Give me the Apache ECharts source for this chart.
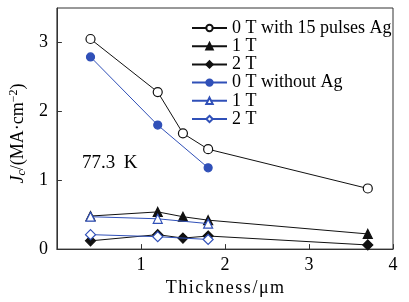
<!DOCTYPE html>
<html>
<head>
<meta charset="utf-8">
<script src="https://cdn.jsdelivr.net/npm/echarts@6/dist/echarts.min.js"></script>
<style>
html,body{margin:0;padding:0;background:#fff;}
#chart{width:409px;height:302px;}
</style>
</head>
<body>
<div id="chart"></div>
<script>
// Data
const thicknessAg = [0.4, 1.2, 1.5, 1.8, 3.7];
const thicknessNoAg = [0.4, 1.2, 1.8];
const jc0TAg = [3.05, 2.28, 1.68, 1.45, 0.88];
const jc1TAg = [0.48, 0.54, 0.47, 0.42, 0.22];
const jc2TAg = [0.12, 0.21, 0.16, 0.19, 0.06];
const jc0TNoAg = [2.79, 1.80, 1.18];
const jc1TNoAg = [0.47, 0.44, 0.37];
const jc2TNoAg = [0.21, 0.18, 0.14];
const seriesNames = ['0 T with 15 pulses Ag', '1 T', '2 T', '0 T without Ag', '1 T\u200b', '2 T\u200b'];
const xTicks = [1, 2, 3, 4];
const yTicks = [0, 1, 2, 3];

const BLACK = '#111';
const BLUE = '#3050b8';
const FONT = 'Liberation Serif';

function pairs(xs, ys) { return xs.map((x, i) => [x, ys[i]]); }

function mk(name, data, color, symbol, size, filled) {
  return {
    name: name,
    type: 'line',
    data: data,
    symbol: symbol,
    symbolSize: size,
    showAllSymbol: true,
    lineStyle: { color: color, width: 1 },
    itemStyle: { color: filled ? color : '#fff', borderColor: color, borderWidth: 1.2 },
    emphasis: { disabled: true },
    z: filled ? 3 : 4
  };
}

const chart = echarts.init(document.getElementById('chart'), null, { renderer: 'canvas' });
chart.setOption({
  animation: false,
  backgroundColor: '#fff',
  textStyle: { fontFamily: FONT, color: '#000' },
  grid: { left: 55, right: 16, top: 8, bottom: 51, show: true, borderColor: '#333', borderWidth: 1, backgroundColor: 'transparent' },
  legend: {
    orient: 'vertical',
    left: 191,
    top: 19,
    padding: 0,
    itemWidth: 35,
    itemHeight: 8,
    itemGap: 0.2,
    textStyle: { fontFamily: FONT, fontSize: 18, color: '#000', lineHeight: 16 },
    data: seriesNames
  },
  xAxis: {
    type: 'value',
    min: 0, max: 4, interval: 1,
    name: 'T h i c k n e s s / μ m'.replace(/ /g, '\u200a'),
    nameLocation: 'middle',
    nameGap: 29,
    nameTextStyle: { fontFamily: FONT, fontSize: 18, color: '#000' },
    axisLine: { show: true, lineStyle: { color: '#333', width: 1 } },
    axisTick: { show: true, inside: true, length: 5, lineStyle: { color: '#333' } },
    axisLabel: { fontFamily: FONT, fontSize: 18, color: '#000', margin: 7,
      formatter: v => xTicks.indexOf(v) >= 0 ? String(v) : '' },
    splitLine: { show: false }
  },
  yAxis: {
    type: 'value',
    min: 0, max: 3.5, interval: 1,
    name: '{j|J}{sub|c}{n|/(MA·cm}{sup|−2}{n|)}',
    nameLocation: 'middle',
    nameGap: 25,
    nameRotate: 90,
    nameTextStyle: {
      fontFamily: FONT, fontSize: 18, color: '#000',
      padding: [0, 10, 0, 0],
      rich: {
        j: { fontFamily: FONT, fontSize: 18, fontStyle: 'italic', color: '#000' },
        sub: { fontFamily: FONT, fontSize: 12, fontStyle: 'italic', color: '#000', padding: [8, 0, 0, 0] },
        n: { fontFamily: FONT, fontSize: 18, color: '#000' },
        sup: { fontFamily: FONT, fontSize: 12, color: '#000', padding: [0, 0, 8, 0] }
      }
    },
    axisLine: { show: true, lineStyle: { color: '#333', width: 1 } },
    axisTick: { show: true, inside: true, length: 5, lineStyle: { color: '#333' } },
    axisLabel: { fontFamily: FONT, fontSize: 18, color: '#000', margin: 9, showMaxLabel: false,
      formatter: v => yTicks.indexOf(v) >= 0 ? String(v) : '' },
    splitLine: { show: false }
  },
  graphic: [{
    type: 'text',
    left: 82,
    top: 154,
    style: { text: '77.3\u2009 K', fontFamily: FONT, fontSize: 19, fill: '#000' }
  }],
  series: [
    mk(seriesNames[0], pairs(thicknessAg, jc0TAg), BLACK, 'circle', 9, false),
    mk(seriesNames[1], pairs(thicknessAg, jc1TAg), BLACK, 'triangle', 9, true),
    mk(seriesNames[2], pairs(thicknessAg, jc2TAg), BLACK, 'diamond', 10, true),
    mk(seriesNames[3], pairs(thicknessNoAg, jc0TNoAg), BLUE, 'circle', 8, true),
    mk(seriesNames[4], pairs(thicknessNoAg, jc1TNoAg), BLUE, 'triangle', 9, false),
    mk(seriesNames[5], pairs(thicknessNoAg, jc2TNoAg), BLUE, 'diamond', 10, false)
  ]
});
</script>
</body>
</html>
